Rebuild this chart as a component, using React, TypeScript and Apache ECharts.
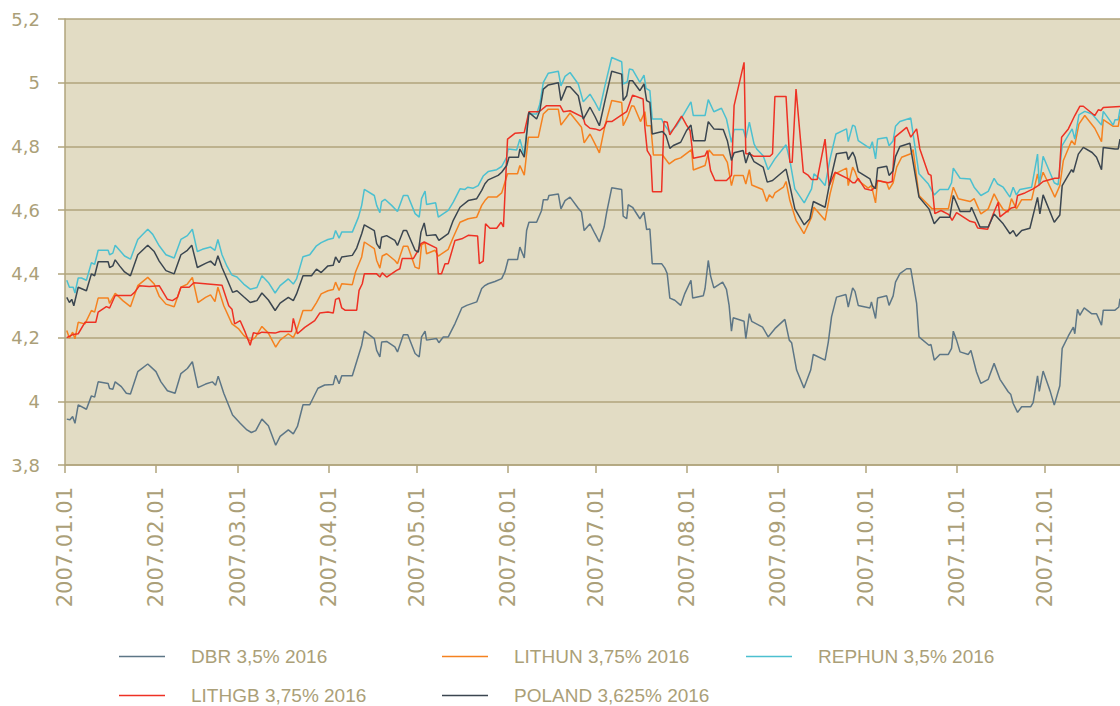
import React, { useEffect, useRef } from "react";
import * as echarts from "echarts";

// Day offsets from 2007-01-01 paired with yield values
const DAY_MS = 86400000;
const START = Date.UTC(2007, 0, 1);
const END_DAY = 359.5;

const monthStarts = [0, 1, 2, 3, 4, 5, 6, 7, 8, 9, 10, 11];
const yMin = 3.8;
const yMax = 5.2;
const yStep = 0.2;

const seriesNames = [
  "DBR 3,5% 2016",
  "LITHUN 3,75% 2016",
  "REPHUN 3,5% 2016",
  "LITHGB 3,75% 2016",
  "POLAND 3,625% 2016",
];
const seriesColors = ["#5d7686", "#f58220", "#4cc0d0", "#ee3124", "#3b4650"];

const dbr: [number, number][] = [
  [0.6,3.944],[1.7,3.942],[2.6,3.952],[3.4,3.931],[4.5,3.989],[7.3,3.975],[9.0,4.017],[10.1,4.013],[11.3,4.061],[14.7,4.056],[15.2,4.04],[16.3,4.038],[17.1,4.061],[19.2,4.046],[20.9,4.025],[22.3,4.023],[24.8,4.093],[28.2,4.117],[31.0,4.093],[32.7,4.061],[34.9,4.033],[37.5,4.025],[39.5,4.087],[41.7,4.103],[43.4,4.124],[45.3,4.043],[47.9,4.054],[50.2,4.061],[51.3,4.05],[52.2,4.079],[54.1,4.025],[57.1,3.957],[59.7,3.931],[62.0,3.91],[63.5,3.902],[65.0,3.908],[67.1,3.944],[69.3,3.923],[71.8,3.862],[73.3,3.89],[76.1,3.91],[77.8,3.898],[79.2,3.921],[81.1,3.989],[83.4,3.989],[86.2,4.041],[88.5,4.051],
  [91.4,4.053],[92.2,4.082],[93.4,4.055],[94.3,4.08],[97.9,4.08],[99.0,4.113],[101.1,4.176],[102.0,4.22],[105.4,4.197],[106.2,4.16],[107.3,4.139],[107.9,4.186],[109.6,4.188],[112.4,4.171],[113.3,4.155],[115.3,4.209],[116.8,4.209],[119.3,4.15],[120.7,4.139],[121.5,4.202],[122.7,4.22],[123.2,4.192],[126.6,4.197],[127.4,4.184],[128.9,4.202],[130.6,4.202],[132.9,4.244],[135.2,4.293],[136.9,4.301],[140.3,4.312],[142.0,4.354],[142.9,4.362],[144.2,4.369],[146.5,4.376],[148.8,4.385],[149.9,4.406],[151.0,4.445],[154.2,4.445],[155.0,4.484],[156.5,4.45],[157.3,4.536],[158.1,4.562],[160.7,4.562],[162.4,4.599],[163.0,4.633],[164.5,4.633],[164.9,4.646],[168.1,4.651],[169.0,4.604],[170.4,4.63],[172.1,4.641],[174.9,4.606],[176.0,4.594],[176.9,4.536],[178.9,4.557],[180.6,4.526],
  [182.1,4.5],[183.7,4.547],[184.6,4.594],[186.3,4.67],[189.7,4.665],[190.2,4.581],[191.4,4.573],[191.9,4.617],[193.4,4.609],[195.9,4.573],[197.3,4.594],[198.2,4.539],[199.3,4.541],[200.1,4.432],[203.3,4.432],[204.4,4.418],[205.2,4.401],[206.1,4.324],[207.8,4.317],[209.8,4.301],[211.2,4.338],[213.3,4.38],[213.9,4.324],[217.5,4.331],[218.1,4.354],[219.2,4.442],[220.0,4.393],[221.1,4.356],[224.1,4.374],[225.4,4.351],[226.3,4.301],[227.1,4.22],[227.7,4.262],[231.4,4.251],[232.0,4.197],[233.2,4.275],[234.0,4.251],[237.7,4.233],[239.6,4.202],[241.9,4.228],[245.3,4.257],[246.8,4.192],[247.6,4.184],[249.3,4.098],[251.8,4.042],[254.1,4.098],[255.0,4.147],[259.0,4.129],[260.1,4.186],[261.2,4.265],[262.9,4.327],[266.1,4.335],[266.9,4.296],[268.4,4.356],
  [269.2,4.345],[270.3,4.301],[274.3,4.293],[274.8,4.312],[276.2,4.26],[276.9,4.324],[280.0,4.331],[280.8,4.301],[282.2,4.331],[283.0,4.374],[284.5,4.401],[286.8,4.416],[288.2,4.416],[290.2,4.307],[291.0,4.202],[294.4,4.176],[295.1,4.178],[296.2,4.129],[298.1,4.147],[301.0,4.147],[302.1,4.166],[302.7,4.22],[303.8,4.192],[305.0,4.155],[307.8,4.147],[308.7,4.16],[310.6,4.092],[312.1,4.056],[314.6,4.069],[316.6,4.119],[318.6,4.069],[321.4,4.03],[322.3,4.021],[323.1,3.993],[324.6,3.965],[326.0,3.983],[329.1,3.983],[329.9,3.996],[331.4,4.08],[332.0,4.031],[333.3,4.095],[335.6,4.035],[337.1,3.988],[339.0,4.049],[339.8,4.166],[341.9,4.205],[343.6,4.233],[344.1,4.212],[345.0,4.289],[345.8,4.27],[347.3,4.293],[349.8,4.275],[351.5,4.275],[353.2,4.239],[353.8,4.286],[357.8,4.286],[359.1,4.296],[359.5,4.322],
];

const lithun: [number, number][] = [
  [0.6,4.222],[1.5,4.198],[2.6,4.217],[3.4,4.196],[4.5,4.248],[6.8,4.243],[9.0,4.285],[10.1,4.28],[11.3,4.324],[14.7,4.324],[15.2,4.307],[17.1,4.339],[19.7,4.316],[22.3,4.297],[24.8,4.363],[28.2,4.389],[30.4,4.368],[32.1,4.33],[34.4,4.305],[37.2,4.297],[39.5,4.358],[41.7,4.368],[43.4,4.389],[45.3,4.31],[47.9,4.326],[49.6,4.334],[51.1,4.313],[52.1,4.358],[54.1,4.3],[56.9,4.243],[59.2,4.227],[60.9,4.207],[63.1,4.19],[64.8,4.2],[67.1,4.235],[69.3,4.214],[71.8,4.17],[73.3,4.192],[76.1,4.212],[77.8,4.2],[78.9,4.222],[81.1,4.285],[84.0,4.285],[85.7,4.31],[87.3,4.337],[89.6,4.347],
  [91.4,4.351],[92.2,4.374],[93.4,4.348],[94.3,4.369],[97.9,4.366],[99.0,4.406],[101.1,4.453],[102.0,4.5],[105.4,4.479],[106.2,4.442],[107.3,4.418],[108.1,4.456],[109.6,4.463],[112.4,4.442],[113.3,4.432],[115.3,4.487],[116.8,4.487],[119.3,4.421],[120.7,4.416],[121.5,4.491],[122.7,4.498],[123.2,4.463],[126.1,4.474],[127.2,4.456],[130.6,4.477],[132.3,4.515],[134.6,4.562],[137.4,4.573],[140.3,4.578],[142.0,4.615],[143.1,4.63],[144.2,4.641],[147.1,4.641],[148.8,4.654],[150.8,4.714],[154.2,4.714],[155.0,4.74],[156.5,4.71],[157.9,4.829],[161.3,4.829],[163.0,4.902],[164.7,4.917],[168.1,4.917],[169.0,4.867],[172.1,4.905],[176.0,4.86],[176.9,4.811],[178.9,4.839],[180.6,4.808],
  [182.1,4.78],[184.0,4.865],[186.3,4.944],[189.7,4.938],[190.2,4.865],[191.6,4.891],[193.1,4.928],[193.9,4.926],[196.1,4.878],[197.6,4.909],[198.2,4.865],[199.6,4.865],[200.5,4.773],[203.6,4.773],[205.9,4.745],[207.8,4.758],[209.8,4.764],[213.5,4.79],[214.1,4.726],[218.1,4.74],[219.5,4.789],[220.9,4.773],[224.3,4.773],[225.7,4.75],[227.1,4.677],[228.0,4.709],[231.1,4.709],[232.0,4.682],[233.2,4.727],[234.0,4.679],[237.7,4.665],[239.1,4.627],[240.0,4.648],[241.1,4.638],[241.9,4.654],[244.8,4.672],[245.7,4.69],[247.0,4.63],[249.1,4.568],[251.8,4.526],[254.4,4.578],[255.2,4.609],[259.0,4.568],[260.7,4.651],[262.4,4.714],[266.3,4.732],[266.9,4.677],[268.4,4.735],
  [269.2,4.721],[270.3,4.693],[273.7,4.669],[274.8,4.677],[276.2,4.623],[276.9,4.693],[280.0,4.686],[280.8,4.665],[282.2,4.686],[283.4,4.735],[285.1,4.766],[288.2,4.777],[289.0,4.79],[291.0,4.646],[295.5,4.604],[301.0,4.604],[302.7,4.672],[304.4,4.636],[308.4,4.627],[309.8,4.636],[312.1,4.588],[314.6,4.604],[316.6,4.651],[317.8,4.63],[319.7,4.602],[321.4,4.594],[322.5,4.636],[324.2,4.604],[326.0,4.633],[329.4,4.633],[331.4,4.714],[332.0,4.682],[333.3,4.719],[337.3,4.641],[339.0,4.677],[340.2,4.756],[343.0,4.818],[344.1,4.805],[345.5,4.87],[347.5,4.897],[350.9,4.857],[353.2,4.815],[353.8,4.884],[357.2,4.863],[358.9,4.863],[359.5,4.897],
];

const rephun: [number, number][] = [
  [0.6,4.38],[1.5,4.358],[2.8,4.358],[3.4,4.34],[4.5,4.387],[5.6,4.387],[7.3,4.38],[9.0,4.435],[10.1,4.43],[11.3,4.474],[14.7,4.474],[15.2,4.46],[16.3,4.465],[17.1,4.49],[18.6,4.474],[20.3,4.456],[22.3,4.446],[24.8,4.508],[28.2,4.54],[29.9,4.524],[32.1,4.488],[34.4,4.46],[37.2,4.45],[39.5,4.508],[41.7,4.52],[43.4,4.54],[45.1,4.47],[46.8,4.477],[49.6,4.484],[51.1,4.474],[52.1,4.508],[53.5,4.46],[55.2,4.424],[56.9,4.396],[58.6,4.39],[60.9,4.368],[63.1,4.352],[65.4,4.357],[67.1,4.394],[69.3,4.373],[71.6,4.34],[73.3,4.363],[76.1,4.384],[77.8,4.368],[78.9,4.384],[81.1,4.454],[83.4,4.46],[85.7,4.488],[87.3,4.498],[89.6,4.508],
  [91.4,4.512],[92.2,4.536],[93.4,4.512],[94.3,4.531],[97.9,4.531],[100.0,4.578],[101.1,4.615],[102.0,4.665],[105.4,4.646],[106.2,4.615],[107.3,4.592],[107.9,4.627],[109.0,4.634],[111.3,4.615],[113.3,4.596],[115.3,4.646],[116.8,4.646],[119.3,4.589],[120.7,4.578],[121.5,4.636],[122.7,4.66],[123.2,4.618],[126.3,4.623],[127.2,4.578],[130.6,4.599],[132.3,4.625],[134.6,4.667],[136.3,4.665],[137.2,4.672],[139.1,4.669],[140.8,4.677],[142.5,4.707],[144.2,4.721],[147.1,4.727],[148.8,4.737],[150.5,4.766],[151.0,4.792],[153.9,4.789],[155.0,4.823],[156.5,4.771],[157.9,4.902],[160.7,4.902],[161.8,4.933],[163.0,5.001],[164.7,5.03],[168.1,5.036],[169.0,4.99],[170.4,5.02],[172.1,5.032],[174.9,4.996],[176.6,4.94],[178.9,4.964],[180.6,4.938],
  [182.1,4.912],[184.0,4.991],[186.3,5.079],[189.7,5.066],[190.2,4.996],[191.6,5.003],[192.3,5.043],[193.4,5.041],[195.9,5.001],[197.3,5.024],[198.0,4.982],[199.3,4.975],[200.1,4.886],[203.3,4.886],[204.1,4.87],[206.1,4.844],[208.4,4.865],[210.9,4.902],[213.3,4.94],[214.1,4.897],[218.1,4.897],[219.2,4.947],[221.1,4.909],[223.7,4.92],[225.4,4.886],[227.1,4.813],[228.0,4.853],[231.1,4.853],[232.0,4.826],[233.2,4.876],[234.8,4.808],[235.7,4.792],[237.9,4.771],[239.6,4.727],[241.9,4.761],[245.7,4.805],[247.0,4.756],[248.7,4.667],[251.9,4.623],[254.4,4.667],[255.2,4.714],[257.2,4.698],[259.0,4.677],[260.7,4.761],[262.7,4.839],[266.3,4.855],[266.9,4.815],[268.4,4.867],
  [269.2,4.863],[270.3,4.818],[274.3,4.794],[275.1,4.815],[276.2,4.761],[276.9,4.823],[280.0,4.828],[280.8,4.802],[282.2,4.818],[283.0,4.863],[284.5,4.878],[288.2,4.889],[291.0,4.714],[294.2,4.682],[296.2,4.648],[298.1,4.665],[301.0,4.665],[302.1,4.686],[302.7,4.732],[305.0,4.7],[308.4,4.698],[309.8,4.672],[312.1,4.646],[314.6,4.659],[316.6,4.7],[317.8,4.682],[319.7,4.672],[322.0,4.641],[323.1,4.672],[324.2,4.648],[325.4,4.665],[329.4,4.672],[331.4,4.776],[332.0,4.677],[333.3,4.769],[337.1,4.686],[338.4,4.679],[339.8,4.803],[343.2,4.855],[344.1,4.823],[345.5,4.899],[347.5,4.91],[350.0,4.902],[353.2,4.867],[353.8,4.91],[357.2,4.867],[357.8,4.884],[358.9,4.884],[359.5,4.917],
];

const lithgb: [number, number][] = [
  [0.6,4.2],[2.8,4.21],[4.5,4.212],[6.8,4.248],[10.5,4.248],[11.3,4.28],[14.1,4.297],[15.2,4.293],[17.1,4.332],[22.5,4.332],[23.7,4.342],[25.4,4.363],[28.7,4.36],[32.1,4.363],[34.9,4.32],[36.6,4.316],[38.3,4.326],[39.5,4.358],[42.3,4.358],[43.9,4.372],[53.5,4.364],[55.8,4.3],[56.9,4.289],[57.8,4.243],[59.7,4.253],[61.4,4.217],[63.1,4.176],[64.2,4.215],[65.9,4.212],[67.1,4.217],[71.6,4.214],[73.3,4.219],[77.2,4.219],[77.8,4.26],[79.2,4.212],[81.7,4.232],[85.1,4.253],[86.8,4.277],[89.6,4.28],
  [91.4,4.277],[92.2,4.32],[93.4,4.324],[94.3,4.293],[95.4,4.286],[99.4,4.286],[100.2,4.348],[101.3,4.369],[102.0,4.4],[106.2,4.4],[107.3,4.39],[108.1,4.403],[109.6,4.39],[113.0,4.411],[114.1,4.416],[114.9,4.448],[118.7,4.448],[120.2,4.471],[121.3,4.495],[122.4,4.5],[126.6,4.481],[127.2,4.4],[128.3,4.4],[129.5,4.432],[130.6,4.432],[132.9,4.505],[135.2,4.51],[137.4,4.521],[140.6,4.519],[141.2,4.432],[142.5,4.44],[143.3,4.557],[144.8,4.543],[147.1,4.543],[148.6,4.562],[149.4,4.547],[150.8,4.823],[153.3,4.841],[156.5,4.844],[158.1,4.909],[161.3,4.909],[162.4,4.915],[164.1,4.928],[168.7,4.928],[169.8,4.909],[172.1,4.912],[176.6,4.891],[177.2,4.87],[178.9,4.857],[180.6,4.855],
  [182.3,4.85],[183.7,4.86],[184.6,4.878],[186.3,4.878],[189.7,4.899],[191.4,4.909],[193.4,4.961],[197.0,4.949],[197.6,4.86],[198.4,4.787],[199.6,4.769],[200.2,4.658],[203.3,4.658],[204.1,4.878],[205.2,4.876],[206.1,4.836],[210.1,4.895],[211.8,4.867],[213.0,4.85],[214.1,4.763],[218.1,4.771],[218.9,4.787],[220.0,4.724],[221.5,4.693],[225.4,4.693],[227.1,4.709],[228.0,4.928],[231.4,5.064],[232.0,4.777],[233.2,4.777],[234.8,4.769],[240.2,4.769],[241.1,4.777],[241.9,4.957],[245.7,4.957],[247.0,4.75],[247.8,4.75],[249.1,4.98],[251.6,4.719],[253.3,4.709],[254.4,4.696],[256.3,4.696],[259.0,4.823],[260.4,4.677],[262.4,4.719],[266.9,4.698],[268.4,4.686],
  [269.2,4.686],[270.3,4.7],[272.6,4.667],[274.8,4.662],[276.0,4.672],[276.9,4.693],[280.5,4.686],[281.9,4.69],[282.8,4.829],[286.8,4.86],[288.2,4.829],[290.2,4.855],[291.3,4.792],[294.2,4.714],[295.1,4.709],[296.4,4.589],[298.5,4.599],[301.2,4.586],[302.3,4.568],[303.8,4.592],[308.4,4.565],[310.1,4.561],[311.0,4.544],[314.4,4.54],[316.3,4.588],[318.0,4.625],[318.6,4.579],[322.5,4.607],[323.9,4.61],[324.6,4.646],[327.1,4.654],[329.9,4.667],[331.6,4.677],[333.3,4.69],[337.3,4.7],[338.7,4.7],[339.6,4.829],[341.9,4.855],[344.1,4.897],[345.8,4.926],[347.0,4.926],[350.9,4.897],[352.1,4.915],[353.0,4.913],[353.8,4.922],[359.5,4.925],
];

const poland: [number, number][] = [
  [0.6,4.326],[1.5,4.31],[2.3,4.32],[3.0,4.3],[4.5,4.358],[7.3,4.347],[9.0,4.4],[10.1,4.394],[11.3,4.438],[14.7,4.438],[15.2,4.42],[16.3,4.425],[17.1,4.444],[18.6,4.425],[20.3,4.406],[22.3,4.394],[24.8,4.46],[28.2,4.49],[30.4,4.47],[32.1,4.44],[34.4,4.41],[37.2,4.4],[39.5,4.46],[41.7,4.474],[43.2,4.49],[45.1,4.42],[47.9,4.433],[49.6,4.44],[51.1,4.426],[52.1,4.457],[53.5,4.42],[55.2,4.384],[57.1,4.342],[58.6,4.347],[60.9,4.328],[63.1,4.31],[65.4,4.316],[67.1,4.34],[69.3,4.318],[71.6,4.285],[73.3,4.308],[76.1,4.326],[77.8,4.316],[78.9,4.337],[81.1,4.394],[84.0,4.394],[85.7,4.415],[87.3,4.404],[89.6,4.425],
  [91.4,4.427],[92.2,4.453],[93.4,4.435],[94.3,4.453],[97.9,4.458],[99.4,4.481],[101.1,4.526],[102.0,4.554],[105.4,4.536],[106.2,4.495],[107.3,4.479],[107.9,4.515],[109.6,4.52],[112.4,4.505],[113.3,4.489],[115.3,4.536],[116.4,4.536],[119.3,4.474],[120.4,4.468],[121.3,4.531],[122.4,4.56],[123.2,4.52],[126.3,4.523],[127.4,4.505],[130.6,4.526],[132.3,4.568],[134.6,4.609],[137.4,4.63],[140.3,4.636],[142.0,4.662],[143.1,4.683],[144.2,4.695],[147.6,4.709],[148.8,4.719],[150.5,4.74],[151.3,4.766],[154.5,4.766],[155.0,4.792],[156.5,4.766],[158.1,4.907],[160.7,4.886],[161.8,4.912],[163.0,4.98],[164.7,4.993],[168.1,5.0],[169.0,4.944],[170.9,4.987],[172.1,4.987],[174.9,4.959],[176.6,4.886],[178.9,4.923],[180.6,4.894],
  [182.1,4.865],[184.0,4.944],[186.3,5.036],[189.7,5.027],[190.2,4.944],[191.4,4.959],[192.3,5.006],[193.4,5.006],[195.9,4.975],[197.3,4.996],[198.2,4.944],[199.3,4.938],[200.1,4.839],[203.6,4.847],[204.8,4.834],[206.1,4.794],[207.3,4.803],[209.8,4.813],[211.8,4.85],[213.3,4.867],[214.1,4.818],[218.1,4.818],[219.2,4.878],[221.1,4.855],[224.3,4.853],[225.7,4.818],[227.1,4.756],[228.0,4.78],[231.1,4.787],[232.0,4.748],[233.2,4.782],[234.8,4.752],[237.9,4.735],[239.3,4.688],[241.1,4.693],[245.7,4.729],[247.0,4.677],[248.7,4.604],[251.9,4.554],[253.8,4.573],[255.0,4.627],[259.0,4.609],[260.4,4.677],[262.9,4.777],[266.3,4.782],[266.9,4.759],[268.4,4.782],
  [269.2,4.766],[270.3,4.721],[274.3,4.698],[275.1,4.677],[276.2,4.667],[276.9,4.732],[280.0,4.738],[280.8,4.709],[282.2,4.724],[283.0,4.768],[284.5,4.8],[287.9,4.81],[291.0,4.641],[294.4,4.604],[296.2,4.557],[298.1,4.578],[301.5,4.578],[302.7,4.646],[305.0,4.596],[308.4,4.596],[308.9,4.609],[311.8,4.547],[314.6,4.547],[316.6,4.588],[319.7,4.557],[322.0,4.526],[323.1,4.536],[324.2,4.518],[326.0,4.536],[328.8,4.543],[331.4,4.64],[332.2,4.588],[333.3,4.648],[337.1,4.562],[339.0,4.585],[339.8,4.677],[343.0,4.727],[343.6,4.719],[345.3,4.776],[347.0,4.797],[350.0,4.781],[351.5,4.766],[353.2,4.727],[353.8,4.797],[357.8,4.792],[358.9,4.792],[359.5,4.823],
];

const seriesData = [dbr, lithun, rephun, lithgb, poland];

const TAN = "#ab9f78";
const LINE_TAN = "#b1a57d";
const BG = "#e2dcc4";

const pad2 = (n: number) => (n < 10 ? "0" + n : "" + n);

export default function App() {
  const ref = useRef<HTMLDivElement>(null);

  useEffect(() => {
    if (!ref.current) return;
    const chart = echarts.init(ref.current, null, { renderer: "svg" });
    const tickValues = monthStarts.map((m) => Date.UTC(2007, m, 1));

    const legendPos = [
      { left: 119, top: 647 },
      { left: 442, top: 647 },
      { left: 746, top: 647 },
      { left: 119, top: 686 },
      { left: 442, top: 686 },
    ];

    chart.setOption({
      animation: false,
      grid: {
        left: 65,
        right: 0,
        top: 19,
        bottom: 241,
        show: true,
        backgroundColor: BG,
        borderWidth: 0,
        containLabel: false,
      },
      xAxis: {
        type: "value",
        min: START,
        max: START + END_DAY * DAY_MS,
        axisLine: { show: true, lineStyle: { color: LINE_TAN, width: 1.5 } },
        axisTick: {
          show: true,
          length: 8,
          lineStyle: { color: LINE_TAN, width: 1.5 },
          customValues: tickValues,
        },
        splitLine: { show: false },
        axisLabel: {
          customValues: tickValues,
          rotate: 90,
          margin: 22,
          color: TAN,
          fontSize: 21,
          fontFamily: "DejaVu Sans",
          formatter: (v: number) => {
            const d = new Date(v);
            return d.getUTCFullYear() + "." + pad2(d.getUTCMonth() + 1) + "." + pad2(d.getUTCDate());
          },
        },
      },
      yAxis: {
        type: "value",
        min: yMin,
        max: yMax,
        interval: yStep,
        axisLine: { show: true, lineStyle: { color: LINE_TAN, width: 1.5 } },
        axisTick: { show: true, length: 7, lineStyle: { color: LINE_TAN, width: 1.5 } },
        splitLine: { show: true, lineStyle: { color: LINE_TAN, width: 1.5 } },
        axisLabel: {
          margin: 25,
          color: TAN,
          fontSize: 18,
          fontFamily: "DejaVu Sans",
          formatter: (v: number) => String(Math.round(v * 10) / 10).replace(".", ","),
        },
      },
      legend: seriesNames.map((name, i) => ({
        data: [name],
        left: legendPos[i].left,
        top: legendPos[i].top,
        padding: 0,
        icon: "rect",
        itemWidth: 46,
        itemHeight: 1.5,
        selectedMode: false,
        textStyle: {
          color: TAN,
          fontSize: 19,
          fontFamily: "Liberation Sans",
          lineHeight: 19,
          padding: [0, 0, 0, 21],
        },
      })),
      series: seriesNames.map((name, i) => ({
        name,
        type: "line",
        color: seriesColors[i],
        showSymbol: false,
        symbol: "none",
        lineStyle: { color: seriesColors[i], width: 1.5 },
        itemStyle: { color: seriesColors[i] },
        data: seriesData[i].map(([d, v]) => [START + d * DAY_MS, v]),
      })),
    });

    return () => chart.dispose();
  }, []);

  return (
    <div
      ref={ref}
      style={{ position: "absolute", left: 0, top: 0, width: 1120, height: 706 }}
    />
  );
}
